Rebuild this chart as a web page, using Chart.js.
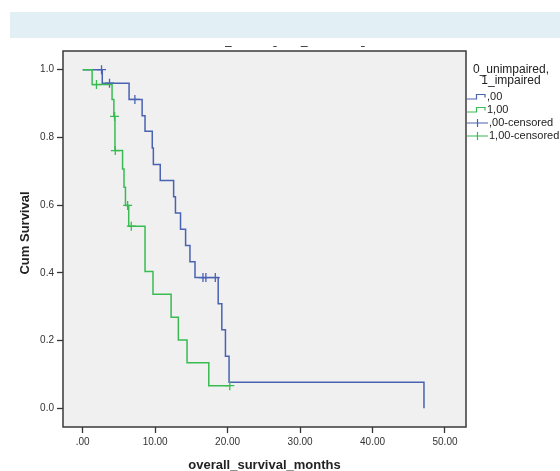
<!DOCTYPE html>
<html><head><meta charset="utf-8">
<script src="https://cdn.jsdelivr.net/npm/chart.js@4.4.0/dist/chart.umd.min.js"></script>
<style>html,body{margin:0;padding:0;background:#fff;overflow:hidden}canvas{display:block}</style>
</head><body>
<canvas id="c" width="560" height="471"></canvas>
<script>
// Group 0 (unimpaired) – Kaplan-Meier steps
const blueTimes = [0, 2.7, 6.4, 8.2, 8.6, 9.6, 9.75, 10.7, 12.55, 12.8, 13.5, 14.2, 14.8, 15.5, 18.7, 19.2, 19.7, 20.2, 47.1];
const blueSurv  = [1.0, 0.96, 0.912, 0.864, 0.818, 0.769, 0.72, 0.673, 0.625, 0.577, 0.529, 0.481, 0.433, 0.386, 0.309, 0.232, 0.154, 0.077, 0.0];
const blueCensorTimes = [2.6, 3.7, 7.2, 16.6, 17.0, 18.3];
const blueCensorSurv  = [1.0, 0.96, 0.912, 0.386, 0.386, 0.386];
// Group 1 (impaired)
const greenTimes = [0, 1.3, 4.05, 4.3, 4.45, 5.5, 5.7, 5.9, 6.35, 8.6, 9.7, 12.2, 13.2, 14.4, 17.4, 20.3];
const greenSurv  = [1.0, 0.956, 0.912, 0.862, 0.761, 0.707, 0.653, 0.599, 0.538, 0.404, 0.337, 0.269, 0.202, 0.135, 0.067, 0.067];
const greenCensorTimes = [1.9, 4.4, 4.5, 6.2, 6.7, 20.3];
const greenCensorSurv  = [0.956, 0.862, 0.761, 0.599, 0.538, 0.067];

const xTickValues = [0, 10, 20, 30, 40, 50];
const xTickLabels = ['.00', '10.00', '20.00', '30.00', '40.00', '50.00'];
const yTickValues = [0, 0.2, 0.4, 0.6, 0.8, 1.0];
const yTickLabels = ['0.0', '0.2', '0.4', '0.6', '0.8', '1.0'];
const legendTitle = ['0_unimpaired,', '1_impaired'];
const legendLabels = [',00', '1,00', ',00-censored', '1,00-censored'];
const xTitle = 'overall_survival_months';
const yTitle = 'Cum Survival';

const BLUE = '#4A62B2', GREEN = '#38BC52';
const FONT = '"Liberation Sans", Arial, sans-serif';

function pts(t, s) { return t.map((v, i) => ({x: v, y: s[i]})); }

const deco = {
  id: 'deco',
  beforeDraw(chart) {
    const c = chart.ctx, a = chart.chartArea;
    c.save();
    c.fillStyle = '#E2F0F5';
    c.fillRect(10, 12, 550, 26);
    c.fillStyle = '#F0F0F0';
    c.fillRect(a.left, a.top, a.right - a.left, a.bottom - a.top);
    c.restore();
  },
  afterDraw(chart) {
    const c = chart.ctx, a = chart.chartArea;
    c.save();
    // plot border
    c.strokeStyle = '#3a3a3a';
    c.lineWidth = 1.5;
    c.strokeRect(a.left, a.top, a.right - a.left, a.bottom - a.top);
    // clipped title remnants
    c.strokeStyle = '#444';
    c.lineWidth = 1;
    [[225, 231.7], [273.3, 276.7], [300.7, 307.7], [361, 364.7]].forEach(([x0, x1]) => {
      c.beginPath(); c.moveTo(x0, 46.5); c.lineTo(x1, 46.5); c.stroke();
    });
    // axis titles
    c.fillStyle = '#222';
    c.font = 'bold 13px ' + FONT;
    c.textAlign = 'center';
    c.textBaseline = 'middle';
    c.fillText(xTitle, (a.left + a.right) / 2, 465);
    c.save();
    c.translate(25, 233);
    c.rotate(-Math.PI / 2);
    c.fillText(yTitle, 0, 0);
    c.restore();
    // legend
    c.font = '12px ' + FONT;
    c.fillText(legendTitle[0], 511, 70);
    c.fillText(legendTitle[1], 511, 81);
    const rows = [97, 110, 123, 136];
    const cols = [BLUE, GREEN, BLUE, GREEN];
    c.font = '11px ' + FONT;
    c.textAlign = 'left';
    rows.forEach((y, i) => {
      c.strokeStyle = cols[i];
      c.lineWidth = 1.2;
      c.beginPath();
      if (i < 2) {
        c.moveTo(467, y + 2); c.lineTo(476.5, y + 2); c.lineTo(476.5, y - 2.5);
        c.lineTo(485, y - 2.5); c.lineTo(485, y + 0.5);
      } else {
        c.moveTo(467, y); c.lineTo(488, y);
        c.moveTo(477.5, y - 4); c.lineTo(477.5, y + 4);
      }
      c.stroke();
      c.fillStyle = '#222';
      c.fillText(legendLabels[i], i < 2 ? 487 : 489, y);
    });
    c.restore();
  }
};

new Chart(document.getElementById('c'), {
  type: 'scatter',
  data: {
    datasets: [
      {data: pts(greenCensorTimes, greenCensorSurv), showLine: false, pointStyle: 'cross', pointRadius: 4.5,
       borderColor: GREEN, backgroundColor: GREEN, borderWidth: 1.3},
      {data: pts(greenTimes, greenSurv), showLine: true, stepped: 'before', pointRadius: 0,
       borderColor: GREEN, borderWidth: 1.5, fill: false},
      {data: pts(blueCensorTimes, blueCensorSurv), showLine: false, pointStyle: 'cross', pointRadius: 4.5,
       borderColor: BLUE, backgroundColor: BLUE, borderWidth: 1.3},
      {data: pts(blueTimes, blueSurv), showLine: true, stepped: 'before', pointRadius: 0,
       borderColor: BLUE, borderWidth: 1.5, fill: false}
    ]
  },
  options: {
    responsive: false,
    animation: false,
    events: [],
    layout: {padding: {top: 51, right: 94, left: 0, bottom: 0}},
    plugins: {legend: {display: false}, tooltip: {enabled: false}, title: {display: false}},
    scales: {
      x: {
        type: 'linear', min: -2.72, max: 52.9,
        afterBuildTicks: s => { s.ticks = xTickValues.map(v => ({value: v})); },
        afterFit: s => { s.height = 44; },
        ticks: {callback: (v, i) => xTickLabels[i], font: {family: FONT, size: 10}, color: '#333',
                maxRotation: 0, autoSkip: false, padding: 3},
        grid: {drawOnChartArea: false, drawTicks: true, tickLength: 6, tickColor: '#333', tickWidth: 1.3},
        border: {display: false}
      },
      y: {
        type: 'linear', min: -0.055, max: 1.055,
        afterBuildTicks: s => { s.ticks = yTickValues.map(v => ({value: v})); },
        afterFit: s => { s.width = 63; },
        ticks: {callback: (v, i) => yTickLabels[i], font: {family: FONT, size: 10}, color: '#333', padding: 3},
        grid: {drawOnChartArea: false, drawTicks: true, tickLength: 6, tickColor: '#333', tickWidth: 1.3},
        border: {display: false}
      }
    }
  },
  plugins: [deco]
});
</script>
</body></html>
